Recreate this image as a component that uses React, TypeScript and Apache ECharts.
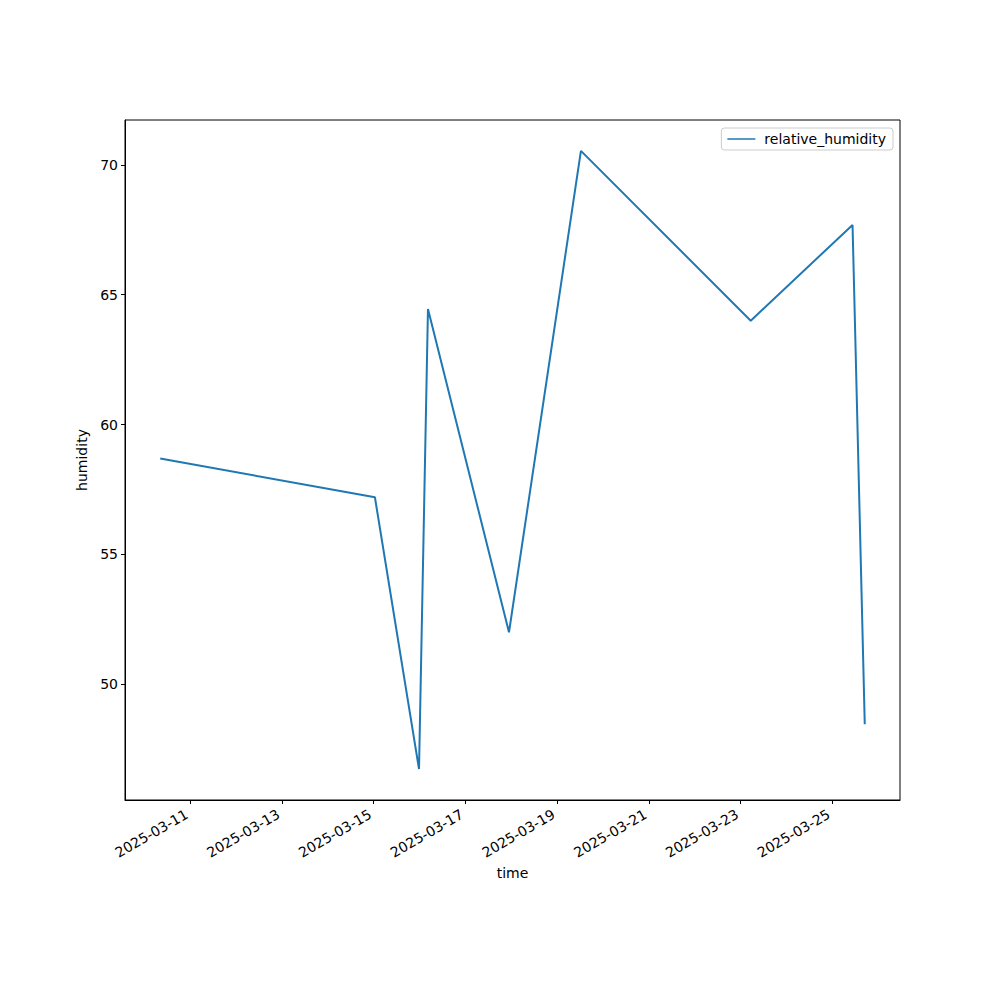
import React, { useEffect, useRef } from "react";
import * as echarts from "echarts";

const times: string[] = [
  "2025-03-10T08:20:00Z",
  "2025-03-15T00:40:00Z",
  "2025-03-15T23:45:00Z",
  "2025-03-16T04:26:00Z",
  "2025-03-17T22:50:00Z",
  "2025-03-19T12:28:00Z",
  "2025-03-23T05:20:00Z",
  "2025-03-25T10:36:00Z",
  "2025-03-25T17:00:00Z",
];
const humidity: number[] = [58.69, 57.2, 46.73, 64.45, 52.0, 70.54, 64.0, 67.69, 48.46];
const xTickLabels: string[] = [
  "2025-03-11",
  "2025-03-13",
  "2025-03-15",
  "2025-03-17",
  "2025-03-19",
  "2025-03-21",
  "2025-03-23",
  "2025-03-25",
];
const yTicks: number[] = [50, 55, 60, 65, 70];

function fmt(v: number): string {
  const d = new Date(v);
  const m = String(d.getUTCMonth() + 1).padStart(2, "0");
  const dd = String(d.getUTCDate()).padStart(2, "0");
  return `${d.getUTCFullYear()}-${m}-${dd}`;
}

export default function App() {
  const ref = useRef<HTMLDivElement>(null);
  useEffect(() => {
    if (!ref.current) return;
    const chart = echarts.init(ref.current, undefined, { renderer: "svg" });
    const ts = times.map((t) => Date.parse(t));
    const tMin = Math.min(...ts);
    const tMax = Math.max(...ts);
    const xPad = (tMax - tMin) * 0.05;
    const yMin0 = Math.min(...humidity);
    const yMax0 = Math.max(...humidity);
    const yPad = (yMax0 - yMin0) * 0.05;
    const xTicks = xTickLabels.map((s) => Date.parse(s + "T00:00:00Z"));
    const font = "DejaVu Sans";
    chart.setOption({
      animation: false,
      backgroundColor: "#ffffff",
      textStyle: { fontFamily: font },
      grid: {
        left: 125,
        right: 100,
        top: 120,
        bottom: 200,
        show: true,
        borderColor: "#000000",
        borderWidth: 1,
        backgroundColor: "transparent",
        containLabel: false,
      },
      legend: {
        show: true,
        right: 107,
        top: 128,
        orient: "vertical",
        padding: [4, 7, 4, 6],
        itemWidth: 28,
        itemHeight: 14,
        itemGap: 10,
        borderColor: "#cccccc",
        borderWidth: 1,
        borderRadius: 3,
        backgroundColor: "rgba(255,255,255,0.8)",
        textStyle: { fontFamily: font, fontSize: 14, color: "#000000", padding: [0, 0, 0, 4] },
        data: [{ name: "relative_humidity", icon: "path://M0,0 L28,0 L28,1.5 L0,1.5 Z" }],
      },
      xAxis: {
        type: "value",
        min: tMin - xPad,
        max: tMax + xPad,
        name: "time",
        nameLocation: "middle",
        nameGap: 66,
        nameTextStyle: { fontFamily: font, fontSize: 14, color: "#000000" },
        splitLine: { show: false },
        axisLine: { show: true, lineStyle: { color: "#000000", width: 1 } },
        axisTick: { show: true, inside: false, length: 4, customValues: xTicks, lineStyle: { color: "#000000" } },
        axisLabel: {
          customValues: xTicks,
          rotate: 30,
          margin: 11,
          padding: [0, 4, 0, 0],
          fontFamily: font,
          fontSize: 14,
          color: "#000000",
          formatter: (v: number) => fmt(v),
        },
      },
      yAxis: {
        type: "value",
        min: yMin0 - yPad,
        max: yMax0 + yPad,
        name: "humidity",
        nameLocation: "middle",
        nameRotate: 90,
        nameGap: 33,
        nameTextStyle: { fontFamily: font, fontSize: 14, color: "#000000" },
        splitLine: { show: false },
        axisLine: { show: true, lineStyle: { color: "#000000", width: 1 } },
        axisTick: { show: true, inside: false, length: 4, customValues: yTicks, lineStyle: { color: "#000000" } },
        axisLabel: {
          customValues: yTicks,
          margin: 7,
          fontFamily: font,
          fontSize: 14,
          color: "#000000",
          formatter: (v: number) => String(v),
        },
      },
      series: [
        {
          name: "relative_humidity",
          type: "line",
          symbol: "none",
          showSymbol: false,
          color: "#1f77b4",
          lineStyle: { color: "#1f77b4", width: 2 },
          data: ts.map((t, i) => [t, humidity[i]]),
        },
      ],
    });
    return () => chart.dispose();
  }, []);
  return (
    <div
      ref={ref}
      style={{ position: "fixed", left: 0, top: 0, width: 1000, height: 1000, background: "#fff" }}
    />
  );
}
